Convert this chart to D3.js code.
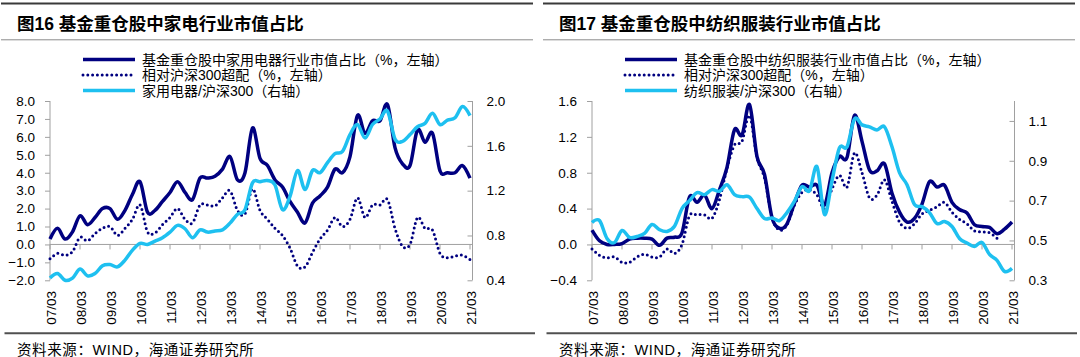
<!DOCTYPE html>
<html><head><meta charset="utf-8">
<script src="https://cdn.jsdelivr.net/npm/d3@7"></script>
<style>
html,body{margin:0;padding:0;background:#fff;}
svg{display:block;}
</style></head><body>
<svg id="c" width="1080" height="357"></svg>
<script>
// ---------- data ----------
const tickLabels = ["07/03","08/03","09/03","10/03","11/03","12/03","13/03","14/03","15/03","16/03","17/03","18/03","19/03","20/03","21/03"];

const leftTitle = "图16 基金重仓股中家电行业市值占比";
const leftLegend = ["基金重仓股中家用电器行业市值占比（%，左轴）","相对沪深300超配（%，左轴）","家用电器/沪深300（右轴）"];
// quarterly, 2007Q1 .. 2021Q1
const applianceShare = [0.3,0.9,0.3,0.7,1.6,1.1,1.5,2.0,2.0,1.4,1.9,2.8,3.5,1.8,1.9,2.4,2.9,3.5,2.9,2.5,3.7,3.7,3.8,4.2,4.9,3.6,4.0,6.5,4.8,4.4,3.6,3.2,2.4,1.8,1.2,2.3,2.7,3.2,4.2,4.0,4.9,7.2,6.2,6.9,6.9,7.8,5.4,4.5,4.4,6.4,5.7,6.2,4.1,4.0,4.0,4.4,3.7];
const applianceOverweight = [-0.8,-0.5,-0.6,-0.4,0.4,0.2,0.6,0.9,1.0,0.5,0.9,1.4,2.2,0.7,0.65,1.1,1.5,2.0,1.4,1.2,2.2,2.2,2.15,2.6,3.0,1.9,1.7,3.1,1.9,1.4,0.9,0.5,-0.2,-1.2,-1.25,-0.45,0.3,0.8,1.5,1.0,1.4,2.6,1.5,2.2,2.2,2.5,0.9,-0.1,0.0,1.5,0.9,0.8,-0.5,-0.75,-0.65,-0.6,-0.85];
const applianceRelative = [0.42,0.46,0.40,0.42,0.50,0.44,0.46,0.53,0.54,0.52,0.58,0.67,0.73,0.72,0.75,0.78,0.83,0.89,0.86,0.78,0.85,0.83,0.84,0.85,0.91,0.99,1.03,1.27,1.28,1.29,1.25,1.03,1.15,1.38,1.21,1.38,1.36,1.45,1.53,1.55,1.70,1.79,1.67,1.79,1.84,1.91,1.66,1.64,1.70,1.77,1.80,1.89,1.79,1.83,1.85,1.95,1.87];
const leftYTicks = [-2,-1,0,1,2,3,4,5,6,7,8];
const leftY2Ticks = [0.4,0.8,1.2,1.6,2.0];

const rightTitle = "图17 基金重仓股中纺织服装行业市值占比";
const rightLegend = ["基金重仓股中纺织服装行业市值占比（%，左轴）","相对沪深300超配（%，左轴）","纺织服装/沪深300（右轴）"];
const textileShare = [0.16,0.04,0.0,0.0,0.01,0.06,0.07,0.07,0.06,-0.01,0.07,0.08,0.13,0.53,0.47,0.55,0.40,0.61,0.86,1.28,1.22,1.56,0.98,0.78,0.30,0.18,0.23,0.46,0.66,0.64,0.66,0.44,0.80,0.98,0.97,1.44,1.15,0.83,0.82,0.90,0.57,0.36,0.25,0.29,0.45,0.70,0.64,0.66,0.47,0.39,0.35,0.22,0.20,0.19,0.12,0.17,0.25];
const textileOverweight = [-0.05,-0.12,-0.15,-0.14,-0.2,-0.2,-0.14,-0.11,-0.14,-0.14,-0.05,-0.1,0.0,0.32,0.33,0.33,0.29,0.50,0.85,1.11,1.15,1.44,0.97,0.74,0.30,0.16,0.22,0.44,0.58,0.61,0.55,0.40,0.62,0.77,0.64,1.02,0.80,0.52,0.55,0.72,0.48,0.25,0.18,0.23,0.34,0.38,0.42,0.47,0.36,0.28,0.23,0.15,0.14,0.13,0.07,null,null];
const textileRelative = [0.59,0.60,0.51,0.49,0.55,0.515,0.52,0.535,0.58,0.554,0.545,0.571,0.66,0.70,0.74,0.73,0.755,0.747,0.78,0.73,0.72,0.717,0.66,0.61,0.613,0.60,0.64,0.697,0.77,0.75,0.87,0.63,0.80,0.965,0.97,1.11,1.08,1.07,1.055,1.07,0.97,0.84,0.78,0.68,0.67,0.64,0.585,0.595,0.57,0.51,0.487,0.47,0.49,0.43,0.40,0.345,0.36];
const rightYTicks = [-0.4,0,0.4,0.8,1.2,1.6];
const rightY2Ticks = [0.3,0.5,0.7,0.9,1.1];

const sourceText = "资料来源：WIND，海通证券研究所";

// ---------- drawing ----------
const NAVY = "#000080", CYAN = "#1EC0F0", AXIS = "#a0a0a0";
const FONT = "'Liberation Sans','Noto Sans CJK SC',sans-serif";
const svg = d3.select("#c");

function drawPanel(ox, cfg) {
  const g = svg.append("g").attr("transform", `translate(${ox},0)`);
  // header rules and title
  g.append("line").attr("x1",1).attr("x2",533).attr("y1",3.5).attr("y2",3.5).attr("stroke","#3a3a3a").attr("stroke-width",2);
  g.append("text").attr("x",17).attr("y",30).attr("font-family",FONT).attr("font-weight","bold")
    .attr("font-size","17.5px").attr("fill","#000").text(cfg.title);
  g.append("line").attr("x1",1).attr("x2",533).attr("y1",39.8).attr("y2",39.8).attr("stroke","#8a8a8a").attr("stroke-width",1);

  // legend
  const legY = [59.5, 75, 90.5];
  const styles = [
    {stroke:NAVY, w:3.5, dash:null},
    {stroke:NAVY, w:3, dash:"0 4.8"},
    {stroke:CYAN, w:3.5, dash:null}
  ];
  cfg.legend.forEach((t,k)=>{
    const s = styles[k];
    const l = g.append("line").attr("x1",83).attr("x2",135).attr("y1",legY[k]).attr("y2",legY[k])
      .attr("stroke",s.stroke).attr("stroke-width",s.w);
    if (s.dash) l.attr("stroke-dasharray",s.dash).attr("stroke-linecap","round");
    g.append("text").attr("x",142).attr("y",legY[k]+5).attr("font-family",FONT).attr("font-size","14px")
      .attr("fill","#000").text(t);
  });

  // scales
  const x = d3.scaleLinear().domain([0,56]).range([50,470]);
  const xEnd = 472.5;
  const yL = d3.scaleLinear().domain(cfg.yDomain).range([280.3,101]);
  const yR = d3.scaleLinear().domain(cfg.y2Domain).range([280.3,101]);

  // left axis
  const la = g.append("g").attr("transform","translate(50,0)")
    .call(d3.axisLeft(yL).tickValues(cfg.yTicks).tickFormat(d3.format(".1f")).tickSize(5).tickPadding(10));
  // right axis (inward ticks)
  const ra = g.append("g").attr("transform",`translate(${xEnd},0)`)
    .call(d3.axisRight(yR).tickValues(cfg.y2Ticks).tickFormat(d3.format(".1f")).tickSize(-5).tickPadding(14));
  [la,ra].forEach(a=>{
    a.select(".domain").attr("stroke",AXIS).attr("d", null);
    a.selectAll(".tick line").attr("stroke",AXIS);
    a.selectAll("text").attr("font-family",FONT).attr("font-size","13.5px").attr("fill","#000");
  });
  g.append("line").attr("x1",50).attr("x2",50).attr("y1",101).attr("y2",280.3).attr("stroke",AXIS);
  g.append("line").attr("x1",xEnd).attr("x2",xEnd).attr("y1",101).attr("y2",280.3).attr("stroke",AXIS);

  // category axis at zero
  const y0 = yL(0);
  g.append("line").attr("x1",50).attr("x2",xEnd).attr("y1",y0).attr("y2",y0).attr("stroke",AXIS);
  const yearIdx = tickLabels.map((d,k)=>k*4);
  g.selectAll(".xt").data(yearIdx).join("line").attr("class","xt")
    .attr("x1",d=>x(d)).attr("x2",d=>x(d)).attr("y1",y0).attr("y2",y0+5).attr("stroke",AXIS);
  g.selectAll(".xl").data(tickLabels).join("text").attr("class","xl")
    .attr("transform",(d,k)=>`translate(${x(yearIdx[k])+1},291) rotate(-90)`)
    .attr("text-anchor","end").attr("dy","0.36em")
    .attr("font-family",FONT).attr("font-size","13.5px").attr("fill","#000").text(d=>d);

  // lines
  const curve = d3.curveCardinal.tension(0);
  const lineL = d3.line().defined(d=>d!=null).x((d,k)=>x(k)).y(d=>yL(d)).curve(curve);
  const lineR = d3.line().defined(d=>d!=null).x((d,k)=>x(k)).y(d=>yR(d)).curve(curve);
  g.append("path").attr("d",lineL(cfg.share)).attr("fill","none").attr("stroke",NAVY)
    .attr("stroke-width",3.5).attr("stroke-linejoin","round");
  g.append("path").attr("d",lineL(cfg.over)).attr("fill","none").attr("stroke",NAVY)
    .attr("stroke-width",3).attr("stroke-dasharray","0 4.8").attr("stroke-linecap","round");
  g.append("path").attr("d",lineR(cfg.rel)).attr("fill","none").attr("stroke",CYAN)
    .attr("stroke-width",3.5).attr("stroke-linejoin","round");

  // footer
  g.append("line").attr("x1",4.5).attr("x2",535).attr("y1",333.3).attr("y2",333.3).attr("stroke","#505050").attr("stroke-width",2);
  g.append("text").attr("x",17).attr("y",355).attr("font-family",FONT).attr("font-size","14.5px")
    .attr("letter-spacing","0.6px").attr("fill","#000").text(sourceText);
}

drawPanel(0, {title:leftTitle, legend:leftLegend, share:applianceShare, over:applianceOverweight, rel:applianceRelative,
  yDomain:[-2,8], y2Domain:[0.4,2.0], yTicks:leftYTicks, y2Ticks:leftY2Ticks});
drawPanel(542, {title:rightTitle, legend:rightLegend, share:textileShare, over:textileOverweight, rel:textileRelative,
  yDomain:[-0.4,1.6], y2Domain:[0.3,1.2], yTicks:rightYTicks, y2Ticks:rightY2Ticks});
</script>
</body></html>
